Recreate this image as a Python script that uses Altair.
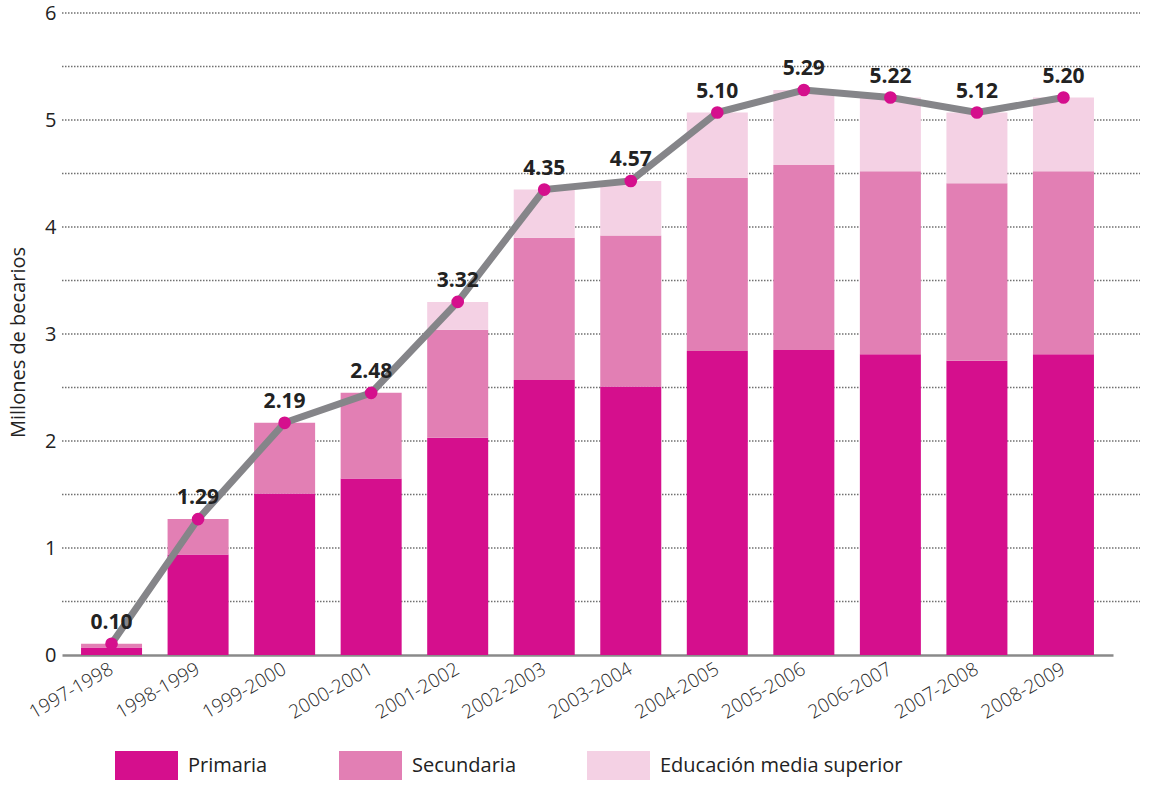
import altair as alt
import pandas as pd

ciclos = ["1997-1998", "1998-1999", "1999-2000", "2000-2001", "2001-2002", "2002-2003",
          "2003-2004", "2004-2005", "2005-2006", "2006-2007", "2007-2008", "2008-2009"]
primaria = [0.07, 0.94, 1.51, 1.65, 2.03, 2.57, 2.51, 2.84, 2.85, 2.81, 2.75, 2.81]
secundaria = [0.035, 0.33, 0.66, 0.80, 1.01, 1.33, 1.41, 1.62, 1.73, 1.71, 1.66, 1.71]
media_superior = [0.0, 0.0, 0.0, 0.0, 0.26, 0.45, 0.51, 0.61, 0.70, 0.69, 0.66, 0.69]
etiquetas = ["0.10", "1.29", "2.19", "2.48", "3.32", "4.35", "4.57", "5.10", "5.29", "5.22", "5.12", "5.20"]
niveles = ["Primaria", "Secundaria", "Educación media superior"]
colores = ["#D50F8D", "#E27FB4", "#F4D1E4"]
y_ticks = [0, 1, 2, 3, 4, 5, 6]
grid_vals = [0.5, 1, 1.5, 2, 2.5, 3, 3.5, 4, 4.5, 5, 5.5, 6]

FONT = "Open Sans"

rows = []
series = [primaria, secundaria, media_superior]
for i, c in enumerate(ciclos):
    for j, n in enumerate(niveles):
        rows.append({"ciclo": c, "nivel": n, "orden": j, "valor": series[j][i]})
bars_df = pd.DataFrame(rows)
tot_df = pd.DataFrame({
    "ciclo": ciclos,
    "total": [round(p + s + m, 3) for p, s, m in zip(primaria, secundaria, media_superior)],
    "etiqueta": etiquetas,
})
grid_df = pd.DataFrame({"g": grid_vals})

x_enc = alt.X(
    "ciclo:N", sort=ciclos,
    scale=alt.Scale(range=[0, 1051], paddingInner=0.295, paddingOuter=0.22),
    axis=alt.Axis(title=None, labelAngle=-30, labelAlign="right", labelBaseline="middle",
                  labelFontSize=19, labelColor="#2a2a2a", labelFont=FONT, labelFontWeight=300,
                  labelPadding=12, ticks=False, domainColor="#8a8a8a", domainWidth=2.5),
)
y_scale = alt.Scale(domain=[0, 6], nice=False)

grid = alt.Chart(grid_df).mark_rule(strokeDash=[1.5, 1.5], color="#707070", strokeWidth=1.5).encode(
    y=alt.Y("g:Q", scale=y_scale),
    x=alt.value(0),
    x2=alt.value(1078),
)

bars = alt.Chart(bars_df).mark_bar().encode(
    x=x_enc,
    y=alt.Y("valor:Q", stack="zero", scale=y_scale,
            axis=alt.Axis(values=y_ticks, format="d", grid=False, domain=False, ticks=False,
                          labelFontSize=20, labelColor="#222222", labelFont=FONT, labelPadding=6,
                          title="Millones de becarios", titleFont=FONT, titleFontSize=20,
                          titleFontWeight="normal", titleColor="#222222",
                          titleX=-44, titleY=329, titleAngle=-90, titleBaseline="middle",
                          titleAlign="center")),
    color=alt.Color("nivel:N", scale=alt.Scale(domain=niveles, range=colores),
                    legend=alt.Legend(title=None, orient="none", legendX=53, legendY=721,
                                      direction="horizontal",
                                      symbolType="M-1,-0.46L1,-0.46L1,0.46L-1,0.46Z",
                                      symbolSize=3969, symbolStrokeWidth=0, symbolOpacity=1,
                                      labelFont=FONT, labelFontSize=20, labelColor="#222222",
                                      labelOffset=10, columnPadding=71, labelLimit=400)),
    order=alt.Order("orden:Q"),
)

line = alt.Chart(tot_df).mark_line(color="#858589", strokeWidth=7).encode(
    x=alt.X("ciclo:N", sort=ciclos),
    y=alt.Y("total:Q", scale=y_scale),
)
points = alt.Chart(tot_df).mark_circle(color="#D50F8D", opacity=1, size=160).encode(
    x=alt.X("ciclo:N", sort=ciclos),
    y=alt.Y("total:Q", scale=y_scale),
)
labels = alt.Chart(tot_df).mark_text(font=FONT, fontSize=21, fontWeight="bold", color="#222222",
                                      baseline="bottom", dy=-11).encode(
    x=alt.X("ciclo:N", sort=ciclos),
    y=alt.Y("total:Q", scale=y_scale),
    text="etiqueta:N",
)

chart = alt.layer(grid, bars, line, points, labels).properties(
    width=1078, height=642,
    autosize=alt.AutoSizeParams(type="none"),
    padding={"left": 62, "top": 13, "right": 11, "bottom": 130},
).configure_view(stroke=None)

chart.save("out.html", embed_options={"renderer": "svg", "actions": False})
